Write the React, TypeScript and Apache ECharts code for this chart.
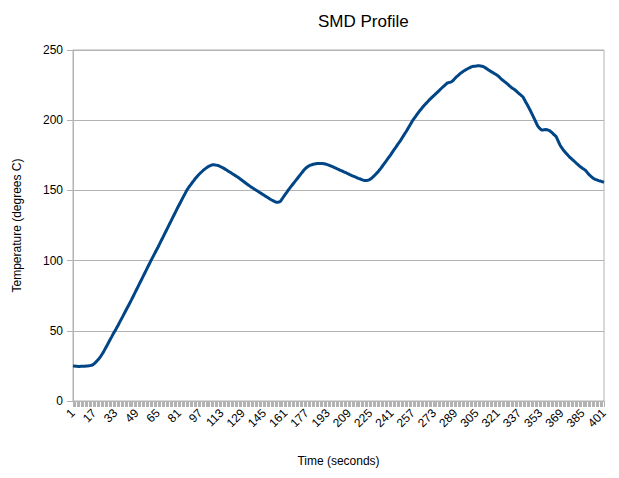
import React, { useEffect, useRef } from "react";
import * as echarts from "echarts";

const titleText = "SMD Profile";
const xAxisName = "Time (seconds)";
const yAxisName = "Temperature (degrees C)";

const temps: number[] = [
  25.0, 24.9, 24.8, 24.7, 24.6, 24.6, 24.7, 24.7, 24.8, 24.8,
  24.9, 25.0, 25.1, 25.2, 25.5, 25.8, 26.6, 27.5, 28.5, 29.5,
  30.7, 32.0, 33.5, 35.0, 36.8, 38.5, 40.2, 42.0, 43.8, 45.5,
  47.3, 49.0, 50.5, 52.3, 54.0, 55.8, 57.6, 59.4, 61.2, 63.0,
  64.8, 66.6, 68.4, 70.2, 72.0, 73.9, 75.8, 77.7, 79.6, 81.5,
  83.4, 85.3, 87.2, 89.1, 91.0, 92.9, 94.8, 96.7, 98.6, 100.5,
  102.3, 104.1, 105.9, 107.7, 109.5, 111.4, 113.3, 115.2, 117.1, 119.0,
  120.9, 122.8, 124.7, 126.6, 128.5, 130.4, 132.3, 134.2, 136.1, 138.0,
  139.8, 141.6, 143.4, 145.2, 147.0, 148.8, 150.5, 151.9, 153.2, 154.5,
  155.8, 157.0, 158.3, 159.4, 160.5, 161.5, 162.4, 163.3, 164.2, 165.0,
  165.7, 166.4, 167.0, 167.5, 167.9, 168.2, 168.2, 168.1, 168.0, 167.8,
  167.4, 167.0, 166.5, 166.0, 165.5, 164.9, 164.3, 163.7, 163.1, 162.5,
  161.9, 161.3, 160.7, 160.1, 159.5, 158.8, 158.1, 157.4, 156.7, 156.0,
  155.3, 154.6, 153.9, 153.2, 152.5, 151.9, 151.3, 150.7, 150.1, 149.5,
  148.9, 148.3, 147.7, 147.1, 146.5, 145.9, 145.3, 144.7, 144.1, 143.5,
  143.0, 142.5, 142.0, 141.6, 141.5, 141.7, 142.0, 143.2, 144.6, 146.0,
  147.3, 148.6, 150.0, 151.3, 152.5, 153.7, 154.9, 156.1, 157.3, 158.5,
  159.7, 160.9, 162.1, 163.3, 164.5, 165.5, 166.3, 167.0, 167.6, 168.0,
  168.3, 168.6, 168.8, 169.0, 169.1, 169.2, 169.2, 169.2, 169.1, 169.0,
  168.8, 168.5, 168.2, 167.9, 167.5, 167.1, 166.7, 166.2, 165.8, 165.4,
  164.9, 164.5, 164.1, 163.7, 163.2, 162.8, 162.4, 161.9, 161.5, 161.0,
  160.6, 160.2, 159.8, 159.4, 159.0, 158.6, 158.3, 157.9, 157.5, 157.2,
  157.0, 157.0, 157.2, 157.5, 158.0, 158.8, 159.6, 160.5, 161.5, 162.5,
  163.5, 164.7, 165.9, 167.2, 168.5, 169.8, 171.1, 172.4, 173.7, 175.0,
  176.4, 177.8, 179.2, 180.5, 181.9, 183.3, 184.6, 186.0, 187.5, 189.0,
  190.5, 192.0, 193.6, 195.2, 196.8, 198.4, 200.0, 201.3, 202.6, 203.9,
  205.2, 206.5, 207.6, 208.8, 209.9, 211.0, 212.0, 213.0, 214.0, 215.0,
  215.9, 216.8, 217.7, 218.6, 219.5, 220.4, 221.3, 222.2, 223.1, 224.0,
  224.8, 225.7, 226.5, 226.8, 227.0, 227.3, 228.0, 229.0, 230.0, 231.0,
  231.8, 232.7, 233.5, 234.1, 234.8, 235.4, 236.0, 236.5, 237.0, 237.5,
  238.0, 238.2, 238.4, 238.5, 238.6, 238.7, 238.7, 238.6, 238.4, 238.2,
  237.7, 237.1, 236.5, 235.8, 235.2, 234.6, 234.1, 233.5, 232.9, 232.3,
  231.7, 230.8, 229.9, 229.0, 228.3, 227.5, 226.8, 226.0, 225.2, 224.3,
  223.5, 222.8, 222.2, 221.5, 220.7, 219.8, 219.0, 218.2, 217.4, 216.5,
  214.8, 213.0, 211.3, 209.6, 207.8, 205.9, 204.0, 202.0, 200.0, 198.0,
  196.0, 194.8, 193.8, 193.0, 193.1, 193.2, 193.3, 193.2, 192.9, 192.5,
  191.8, 191.0, 190.0, 189.2, 188.3, 186.2, 184.1, 182.0, 180.6, 179.3,
  178.0, 176.9, 175.9, 174.8, 173.8, 173.0, 172.1, 171.3, 170.4, 169.5,
  168.7, 167.8, 167.0, 166.3, 165.6, 165.0, 164.3, 163.2, 162.1, 161.0,
  160.1, 159.3, 158.5, 158.1, 157.7, 157.4, 157.0, 156.7, 156.4, 156.1,
  155.8,
];

const seconds: string[] = temps.map((_, i) => String(i + 1));

const yMin = 0;
const yMax = 250;
const yStep = 50;
const xLabelEvery = 16;

export default function App() {
  const ref = useRef<HTMLDivElement>(null);
  useEffect(() => {
    if (!ref.current) return;
    const chart = echarts.init(ref.current, undefined, { renderer: "svg" });
    const font = "'Liberation Sans', Arial, sans-serif";
    chart.setOption({
      animation: false,
      backgroundColor: "#ffffff",
      textStyle: { fontFamily: font },
      title: {
        text: titleText,
        left: 313,
        top: 8,
        textStyle: { fontFamily: font, fontSize: 17, fontWeight: "normal", color: "#000000" },
      },
      grid: {
        left: 73,
        right: 15,
        top: 50,
        bottom: 77,
        show: true,
        borderColor: "#b3b3b3",
        borderWidth: 1,
      },
      xAxis: {
        type: "category",
        data: seconds,
        boundaryGap: false,
        name: xAxisName,
        nameLocation: "middle",
        nameGap: 54,
        nameTextStyle: { fontFamily: font, fontSize: 12, color: "#000000" },
        axisLine: { show: true, lineStyle: { color: "#b3b3b3", width: 1 } },
        axisTick: { show: true, interval: 0, length: 6, lineStyle: { color: "#b3b3b3" } },
        axisLabel: {
          interval: xLabelEvery - 1,
          rotate: 45,
          margin: 10,
          fontFamily: font,
          fontSize: 12,
          color: "#000000",
        },
        splitLine: { show: false },
      },
      yAxis: {
        type: "value",
        min: yMin,
        max: yMax,
        interval: yStep,
        name: yAxisName,
        nameLocation: "middle",
        nameGap: 50,
        nameTextStyle: { fontFamily: font, fontSize: 12, color: "#000000" },
        axisLine: { show: true, lineStyle: { color: "#b3b3b3", width: 1 } },
        axisTick: { show: true, length: 6, lineStyle: { color: "#b3b3b3" } },
        axisLabel: { margin: 10, fontFamily: font, fontSize: 12, color: "#000000" },
        splitLine: { show: true, lineStyle: { color: "#b3b3b3", width: 1 } },
      },
      series: [
        {
          type: "line",
          data: temps,
          showSymbol: false,
          symbol: "none",
          lineStyle: { color: "#004586", width: 3 },
          itemStyle: { color: "#004586" },
        },
      ],
    });
    return () => chart.dispose();
  }, []);
  return (
    <div
      ref={ref}
      style={{ position: "fixed", left: 0, top: 0, width: 619, height: 478 }}
    />
  );
}
